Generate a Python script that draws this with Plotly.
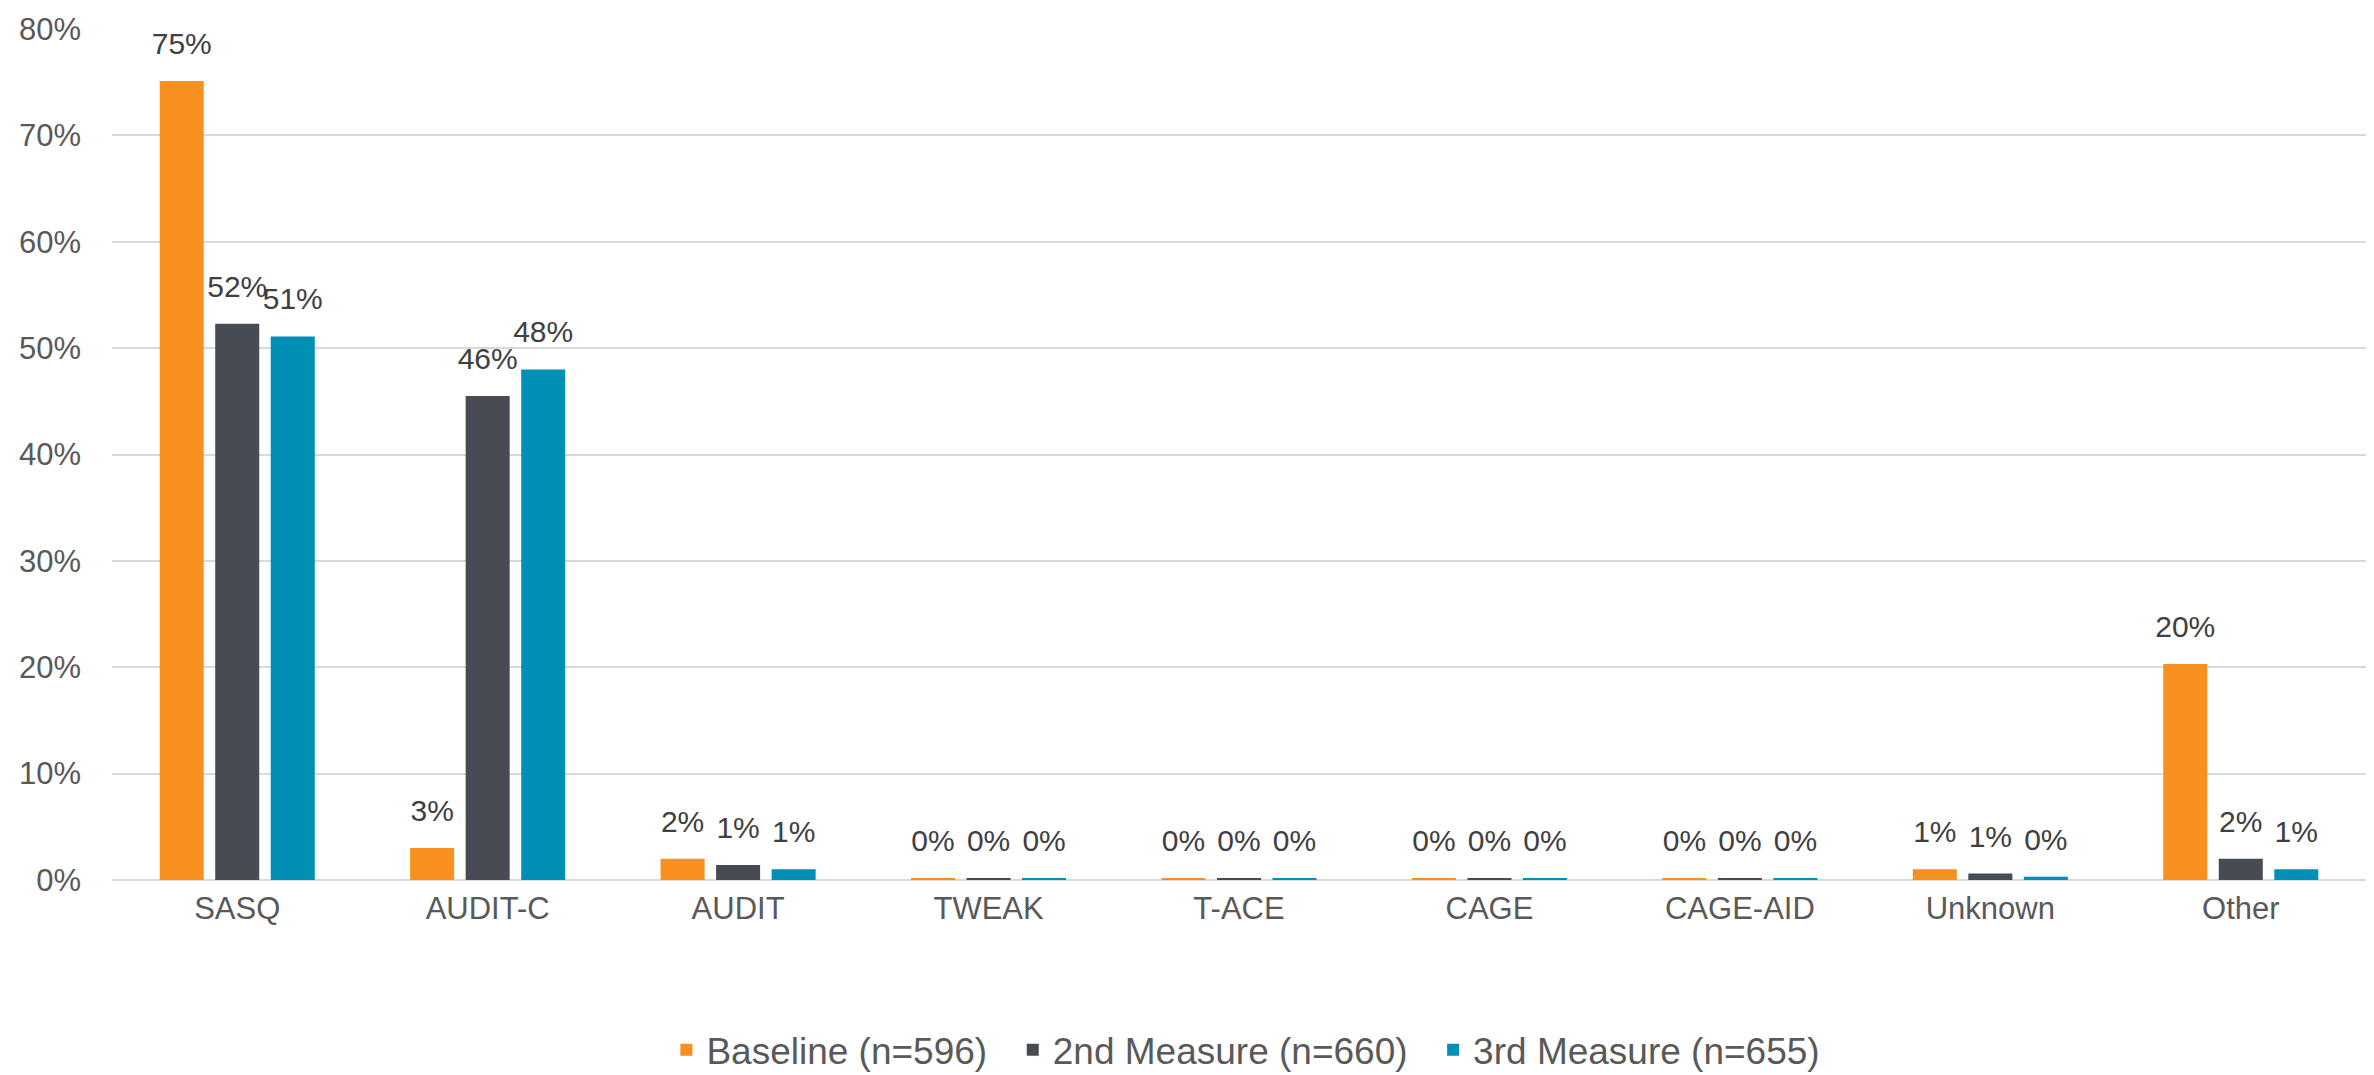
import plotly.graph_objects as go

categories = ["SASQ", "AUDIT-C", "AUDIT", "TWEAK", "T-ACE", "CAGE", "CAGE-AID", "Unknown", "Other"]
baseline = [0.751, 0.030, 0.020, 0.0015, 0.0015, 0.0015, 0.0015, 0.010, 0.203]
second = [0.523, 0.455, 0.014, 0.0015, 0.0015, 0.0015, 0.0015, 0.006, 0.020]
third = [0.511, 0.480, 0.010, 0.0015, 0.0015, 0.0015, 0.0015, 0.003, 0.010]
series_names = ["Baseline (n=596)", "2nd Measure (n=660)", "3rd Measure (n=655)"]
colors = ["#F7901E", "#474B54", "#0090B5"]

FONT = "Liberation Sans, Arial, sans-serif"
LABEL_GAP = 0.017  # extra space between bar top and its data label (axis units)

fig = go.Figure()
for i, (name, vals, col) in enumerate(zip(series_names, [baseline, second, third], colors)):
    fig.add_trace(go.Bar(
        x=categories, y=vals, name=name + "\u00a0\u00a0",
        offsetgroup=str(i),
        marker=dict(color=col, line=dict(width=0)),
        hovertemplate="%{x}: %{y:.1%}<extra>" + name + "</extra>",
    ))
    # transparent spacer carrying the data label just above each bar
    fig.add_trace(go.Bar(
        x=categories, y=[LABEL_GAP] * len(vals), base=vals,
        offsetgroup=str(i), showlegend=False, hoverinfo="skip",
        marker=dict(color="rgba(0,0,0,0)", line=dict(width=0)),
        text=[f"{v:.0%}" for v in vals], textposition="outside",
        constraintext="none",
        textfont=dict(family=FONT, size=30, color="#404040"),
        cliponaxis=False,
    ))

fig.update_layout(
    width=2374, height=1075,
    margin=dict(l=104, r=16, t=21, b=203, autoexpand=False),
    paper_bgcolor="white", plot_bgcolor="white",
    barmode="group", bargap=0.335, bargroupgap=0.207,
    font=dict(family=FONT, size=31, color="#595959"),
    showlegend=True,
    legend=dict(orientation="h", x=0.5075, xanchor="center", y=-0.2, yanchor="middle",
                font=dict(family=FONT, size=37, color="#595959"),
                itemwidth=30, traceorder="normal"),
    uniformtext=dict(mode=False),
)
fig.update_yaxes(range=[0, 0.8], dtick=0.1, tickformat=".0%",
                 showgrid=True, gridcolor="#D9D9D9", gridwidth=2,
                 zeroline=True, zerolinecolor="#D9D9D9", zerolinewidth=2,
                 showline=False, ticks="", ticklabelstandoff=30,
                 tickfont=dict(family=FONT, size=31, color="#595959"))
fig.update_xaxes(showline=False, ticks="", ticklabelstandoff=7,
                 tickfont=dict(family=FONT, size=31, color="#595959"))

fig.write_html("out.html")
